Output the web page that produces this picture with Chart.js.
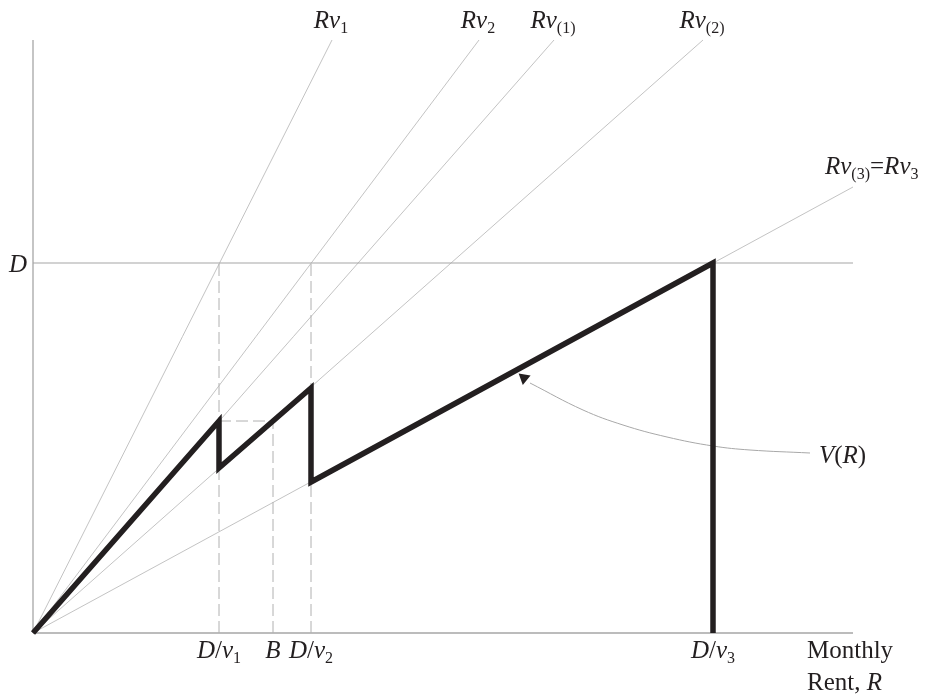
<!DOCTYPE html>
<html>
<head>
<meta charset="utf-8">
<script src="https://cdn.jsdelivr.net/npm/chart.js@4/dist/chart.umd.min.js"></script>
<style>
  html, body { margin: 0; padding: 0; background: #ffffff; }
  canvas { display: block; }
</style>
</head>
<body>
<canvas id="c" width="932" height="696"></canvas>
<script>
// ---- data (axis units: rent R on x, value on y) ----
const xMax = 820;
const yMax = 593;
const D = 370;

// rays R·v from the origin: label, end point
const rayNames = ['Rv1', 'Rv2', 'Rv(1)', 'Rv(2)', 'Rv(3)=Rv3'];
const rayEndX = [299, 446, 521, 670, 820];
const rayEndY = [593, 593, 593, 593, 446];

// V(R) heavy polyline
const vRentX  = [0, 186, 186, 278, 278, 680, 680];
const vValueY = [0, 212, 165, 245, 151, 370, 0];

// x-axis marks
const markNames = ['D/v1', 'B', 'D/v2', 'D/v3'];
const markX = [186, 240, 278, 680];
const bHeight = 212; // dashed guide height at B

// annotation curve for V(R)
const curveX = [777, 717, 680, 634, 590, 550, 497];
const curveY = [180, 183, 187, 196, 208, 223, 250];
const arrowHead = { x: 491, y: 255 };

// ---- build datasets (listed bottom layer first) ----
const pts = (xs, ys) => xs.map((x, i) => ({ x: x, y: ys[i] }));
const thin = '#b4b4b4';
const axisCol = '#a6a6a6';
const base = { showLine: true, pointRadius: 0, fill: false, clip: false, tension: 0 };

const layers = [];
// rays
rayEndX.forEach((ex, i) => {
  layers.push(Object.assign({}, base, { data: pts([0, ex], [0, rayEndY[i]]), borderColor: thin, borderWidth: 0.8 }));
});
// axes and D line
layers.push(Object.assign({}, base, { data: pts([0, xMax], [0, 0]), borderColor: axisCol, borderWidth: 1.3 }));
layers.push(Object.assign({}, base, { data: pts([0, 0], [0, yMax]), borderColor: axisCol, borderWidth: 1.3 }));
layers.push(Object.assign({}, base, { data: pts([0, xMax], [D, D]), borderColor: axisCol, borderWidth: 1.1 }));
// dashed guides
const dash = [12, 5];
layers.push(Object.assign({}, base, { data: pts([markX[0], markX[0]], [0, D]), borderColor: '#b0b0b0', borderWidth: 1, borderDash: dash }));
layers.push(Object.assign({}, base, { data: pts([markX[2], markX[2]], [0, D]), borderColor: '#b0b0b0', borderWidth: 1, borderDash: dash }));
layers.push(Object.assign({}, base, { data: pts([markX[1], markX[1]], [0, bHeight]), borderColor: '#b0b0b0', borderWidth: 1, borderDash: dash }));
layers.push(Object.assign({}, base, { data: pts([markX[0], markX[1]], [bHeight, bHeight]), borderColor: '#b0b0b0', borderWidth: 1, borderDash: dash }));
// annotation curve
layers.push(Object.assign({}, base, { data: pts(curveX, curveY), borderColor: '#a8a8a8', borderWidth: 1, tension: 0.4 }));
// V(R)
layers.push(Object.assign({}, base, { data: pts(vRentX, vValueY), borderColor: '#231f20', borderWidth: 5.5, borderJoinStyle: 'miter', borderCapStyle: 'butt' }));
// arrow head
layers.push({ showLine: false, data: [arrowHead], pointStyle: 'triangle', pointRadius: 7, pointRotation: -50,
  pointBackgroundColor: '#231f20', pointBorderColor: '#231f20', pointBorderWidth: 0, clip: false });

// Chart.js paints higher "order" first; give top layers lower order
const datasets = layers.map((d, i) => Object.assign(d, { order: layers.length - i }));

// ---- rich label drawing ----
const FONT = '"Liberation Serif", "Times New Roman", serif';
function parseLabel(s) {
  const segs = [];
  let i = 0;
  while (i < s.length) {
    const ch = s[i];
    if (ch === 'v') {
      segs.push({ t: 'v', it: true });
      i++;
      let sub = '';
      while (i < s.length && /[0-9()]/.test(s[i])) { sub += s[i]; i++; }
      if (sub) segs.push({ t: sub, sub: true });
    } else if (/[A-Za-z]/.test(ch)) {
      segs.push({ t: ch, it: true }); i++;
    } else {
      segs.push({ t: ch, it: false }); i++;
    }
  }
  return segs;
}
function fontFor(seg) {
  if (seg.sub) return '16px ' + FONT;
  return (seg.it ? 'italic ' : '') + '25px ' + FONT;
}
function measure(ctx, segs) {
  let w = 0;
  segs.forEach(s => { ctx.font = fontFor(s); w += ctx.measureText(s.t).width; });
  return w;
}
function drawRich(ctx, segs, x, y, align) {
  let w = measure(ctx, segs);
  let cx = align === 'center' ? x - w / 2 : (align === 'right' ? x - w : x);
  ctx.textAlign = 'left';
  ctx.textBaseline = 'alphabetic';
  segs.forEach(s => {
    ctx.font = fontFor(s);
    ctx.fillText(s.t, cx, s.sub ? y + 5 : y);
    cx += ctx.measureText(s.t).width;
  });
}

const labelPlugin = {
  id: 'labels',
  afterDatasetsDraw(chart) {
    const ctx = chart.ctx;
    const xs = chart.scales.x, ys = chart.scales.y;
    ctx.save();
    ctx.fillStyle = '#231f20';
    rayNames.forEach((n, i) => {
      const px = xs.getPixelForValue(rayEndX[i]);
      const py = ys.getPixelForValue(rayEndY[i]);
      if (i < 4) {
        drawRich(ctx, parseLabel(n), px - 1, py - 12, 'center');
      } else {
        drawRich(ctx, parseLabel(n), px - 28, py - 13, 'left');
      }
    });
    const y0 = ys.getPixelForValue(0);
    markNames.forEach((n, i) => {
      drawRich(ctx, parseLabel(n), xs.getPixelForValue(markX[i]), y0 + 25, 'center');
    });
    drawRich(ctx, parseLabel('D'), xs.getPixelForValue(0) - 6, ys.getPixelForValue(D) + 9, 'right');
    drawRich(ctx, [{ t: 'V', it: true }, { t: '(', it: false }, { t: 'R', it: true }, { t: ')', it: false }],
      xs.getPixelForValue(curveX[0]) + 9, ys.getPixelForValue(curveY[0]) + 10, 'left');
    const tx = xs.getPixelForValue(xMax) - 46;
    drawRich(ctx, [{ t: 'Monthly', it: false }], tx, y0 + 25, 'left');
    drawRich(ctx, [{ t: 'Rent, ', it: false }, { t: 'R', it: true }], tx, y0 + 57, 'left');
    ctx.restore();
  }
};

new Chart(document.getElementById('c'), {
  type: 'scatter',
  data: { datasets: datasets },
  options: {
    responsive: false,
    animation: false,
    devicePixelRatio: 1,
    layout: { padding: { left: 33, right: 79, top: 40, bottom: 63 } },
    plugins: { legend: { display: false }, tooltip: { enabled: false } },
    scales: {
      x: { type: 'linear', min: 0, max: xMax, display: false },
      y: { type: 'linear', min: 0, max: yMax, display: false }
    },
    events: []
  },
  plugins: [labelPlugin]
});
</script>
</body>
</html>
